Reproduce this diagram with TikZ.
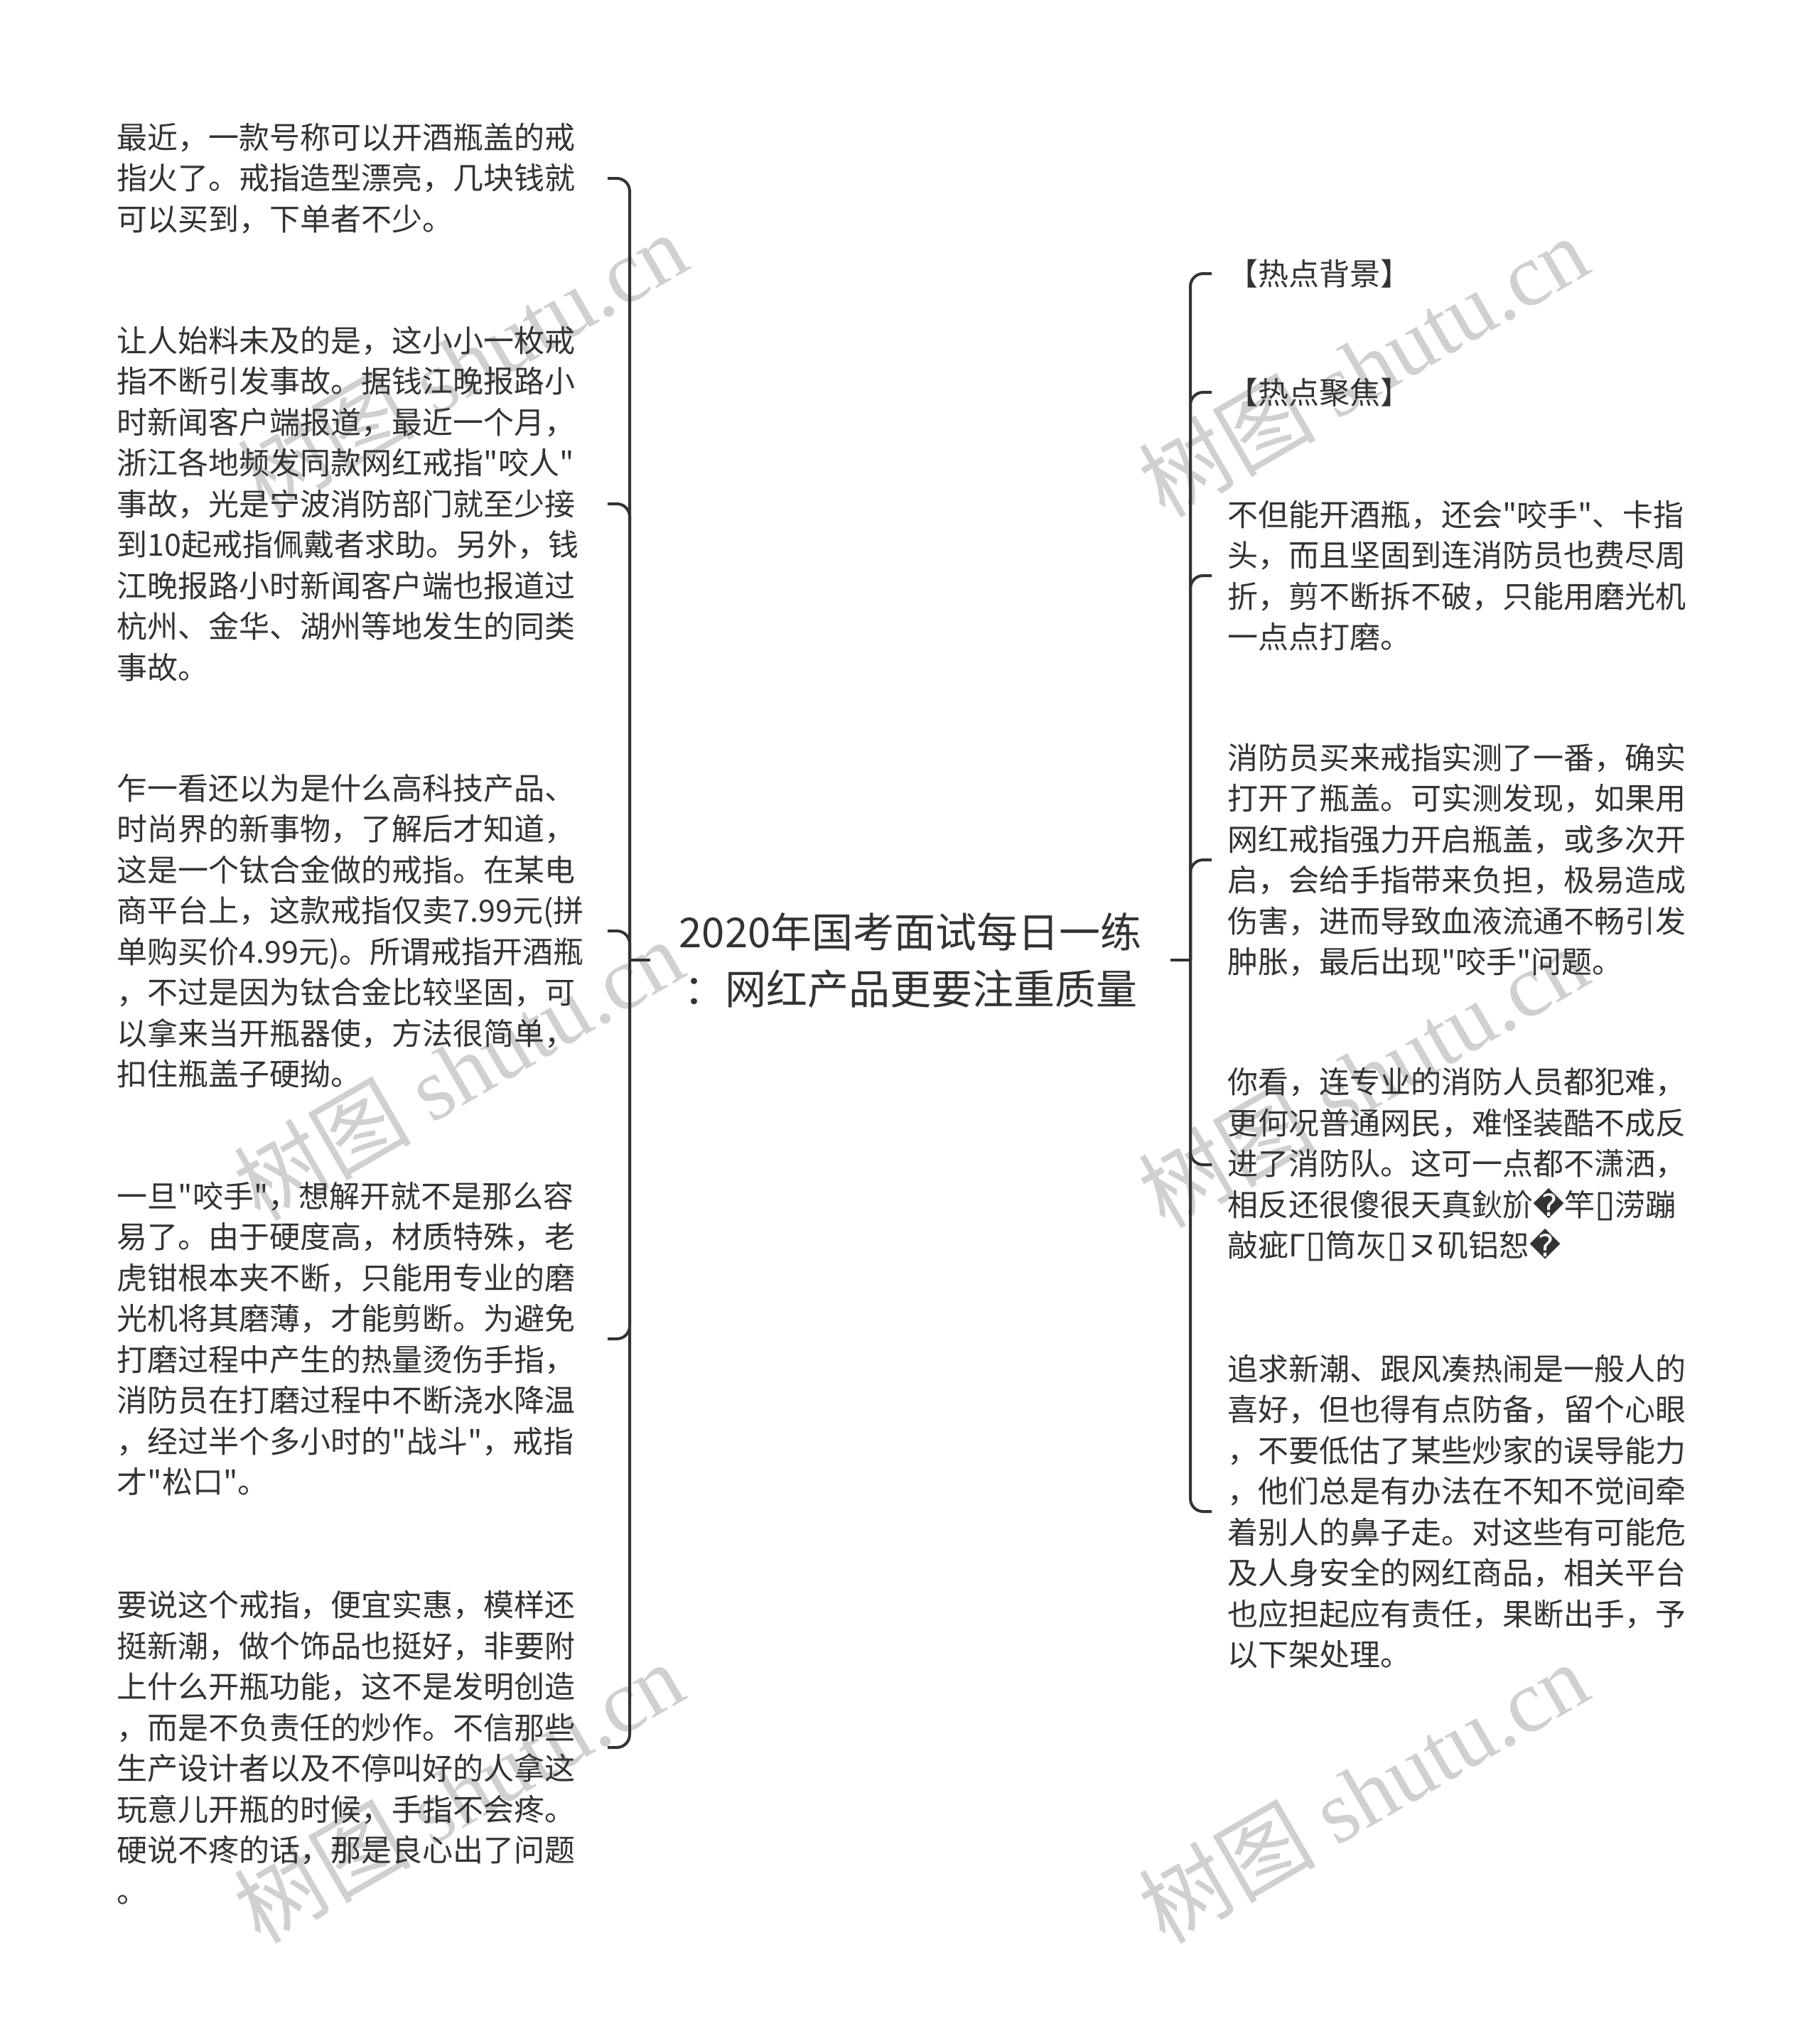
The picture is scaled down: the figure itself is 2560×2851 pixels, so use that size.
\documentclass[tikz,border=0pt]{standalone}
\usepackage{fontspec}
\setmainfont{Noto Sans CJK SC}[Ligatures=TeXOff]
\newfontfamily\wmfont{Liberation Serif}
\newfontfamily\symfont{DejaVu Sans}

\definecolor{ink}{HTML}{333333}
\definecolor{wmgray}{HTML}{D0D0D0}

\newcommand{\bodyfont}{\fontsize{43pt}{57.5pt}\selectfont}
\newcommand{\titlefont}{\fontsize{58pt}{80pt}\selectfont}
\newcommand{\tofu}{{\symfont\fontsize{52pt}{57.5pt}\selectfont ▯}}
\newcommand{\badchar}{{\symfont �}}

\tikzset{
  link/.style={draw=ink, line width=4pt, rounded corners=18pt},
  wmark/.style={rotate=30, text=wmgray, font=\fontsize{125pt}{125pt}\selectfont}
}

\begin{document}
\begin{tikzpicture}[x=1pt,y=-1pt]

        \useasboundingbox[fill=white] (0,0) rectangle (2560,2851);

        % watermarks
        \begin{scope}[every node/.style={wmark}]
          \node (w1) at (650,510)   {树图 {\wmfont shutu.cn}};
          \node (w2) at (645,1505)  {树图 {\wmfont shutu.cn}};
          \node (w3) at (645,2522)  {树图 {\wmfont shutu.cn}};
          \node (w4) at (1918,515)  {树图 {\wmfont shutu.cn}};
          \node (w5) at (1918,1515) {树图 {\wmfont shutu.cn}};
          \node (w6) at (1918,2522) {树图 {\wmfont shutu.cn}};
        \end{scope}

        \node[font=\titlefont, text=ink, align=center, inner xsep=40pt] (t) at (1281,1351)
          {2020年国考面试每日一练\\：网红产品更要注重质量};

        \coordinate (lj) at (886,1351);
        \coordinate (rj) at (1675,1351);

        \begin{scope}[every node/.style={anchor=east, text width=690pt, inner xsep=0pt,
                      align=left, font=\bodyfont, text=ink}]
          \node (l1) at (855,251)  {最近，一款号称可以开酒瓶盖的戒\\指火了。戒指造型漂亮，几块钱就\\可以买到，下单者不少。};
          \node (l2) at (855,709)  {让人始料未及的是，这小小一枚戒\\指不断引发事故。据钱江晚报路小\\时新闻客户端报道，最近一个月，\\浙江各地频发同款网红戒指"咬人"\\事故，光是宁波消防部门就至少接\\到10起戒指佩戴者求助。另外，钱\\江晚报路小时新闻客户端也报道过\\杭州、金华、湖州等地发生的同类\\事故。};
          \node (l3) at (855,1310) {乍一看还以为是什么高科技产品、\\时尚界的新事物，了解后才知道，\\这是一个钛合金做的戒指。在某电\\商平台上，这款戒指仅卖7.99元(拼\\单购买价4.99元)。所谓戒指开酒瓶\\，不过是因为钛合金比较坚固，可\\以拿来当开瓶器使，方法很简单，\\扣住瓶盖子硬拗。};
          \node (l4) at (855,1884) {一旦"咬手"，想解开就不是那么容\\易了。由于硬度高，材质特殊，老\\虎钳根本夹不断，只能用专业的磨\\光机将其磨薄，才能剪断。为避免\\打磨过程中产生的热量烫伤手指，\\消防员在打磨过程中不断浇水降温\\，经过半个多小时的"战斗"，戒指\\才"松口"。};
          \node (l5) at (855,2459) {要说这个戒指，便宜实惠，模样还\\挺新潮，做个饰品也挺好，非要附\\上什么开瓶功能，这不是发明创造\\，而是不负责任的炒作。不信那些\\生产设计者以及不停叫好的人拿这\\玩意儿开瓶的时候，手指不会疼。\\硬说不疼的话，那是良心出了问题\\。};
        \end{scope}

        \begin{scope}[every node/.style={anchor=west, text width=690pt, inner xsep=22pt,
                      align=left, font=\bodyfont, text=ink}]
          \node (r1) at (1705,385)  {【热点背景】};
          \node (r2) at (1705,552)  {【热点聚焦】};
          \node (r3) at (1705,810)  {不但能开酒瓶，还会"咬手"、卡指\\头，而且坚固到连消防员也费尽周\\折，剪不断拆不破，只能用磨光机\\一点点打磨。};
          \node (r4) at (1705,1210) {消防员买来戒指实测了一番，确实\\打开了瓶盖。可实测发现，如果用\\网红戒指强力开启瓶盖，或多次开\\启，会给手指带来负担，极易造成\\伤害，进而导致血液流通不畅引发\\肿胀，最后出现"咬手"问题。};
          \node (r5) at (1705,1639) {你看，连专业的消防人员都犯难，\\更何况普通网民，难怪装酷不成反\\进了消防队。这可一点都不潇洒，\\相反还很傻很天真鈥斺\badchar 竿\tofu 涝蹦\\敲疵Γ\tofu 筒灰\tofu ヌ矶铝恕\badchar};
          \node (r6) at (1705,2127) {追求新潮、跟风凑热闹是一般人的\\喜好，但也得有点防备，留个心眼\\，不要低估了某些炒家的误导能力\\，他们总是有办法在不知不觉间牵\\着别人的鼻子走。对这些有可能危\\及人身安全的网红商品，相关平台\\也应担起应有责任，果断出手，予\\以下架处理。};
        \end{scope}

        % connectors
        \draw[link] (t.west) -- (lj);
        \draw[link] (t.east) -- (rj);
        \foreach \i in {1,...,5}
          \draw[link] (lj) |- (l\i.east);
        \foreach \i in {1,...,6}
          \draw[link] (rj) |- (r\i.west);

      \end{tikzpicture}
\end{document}
